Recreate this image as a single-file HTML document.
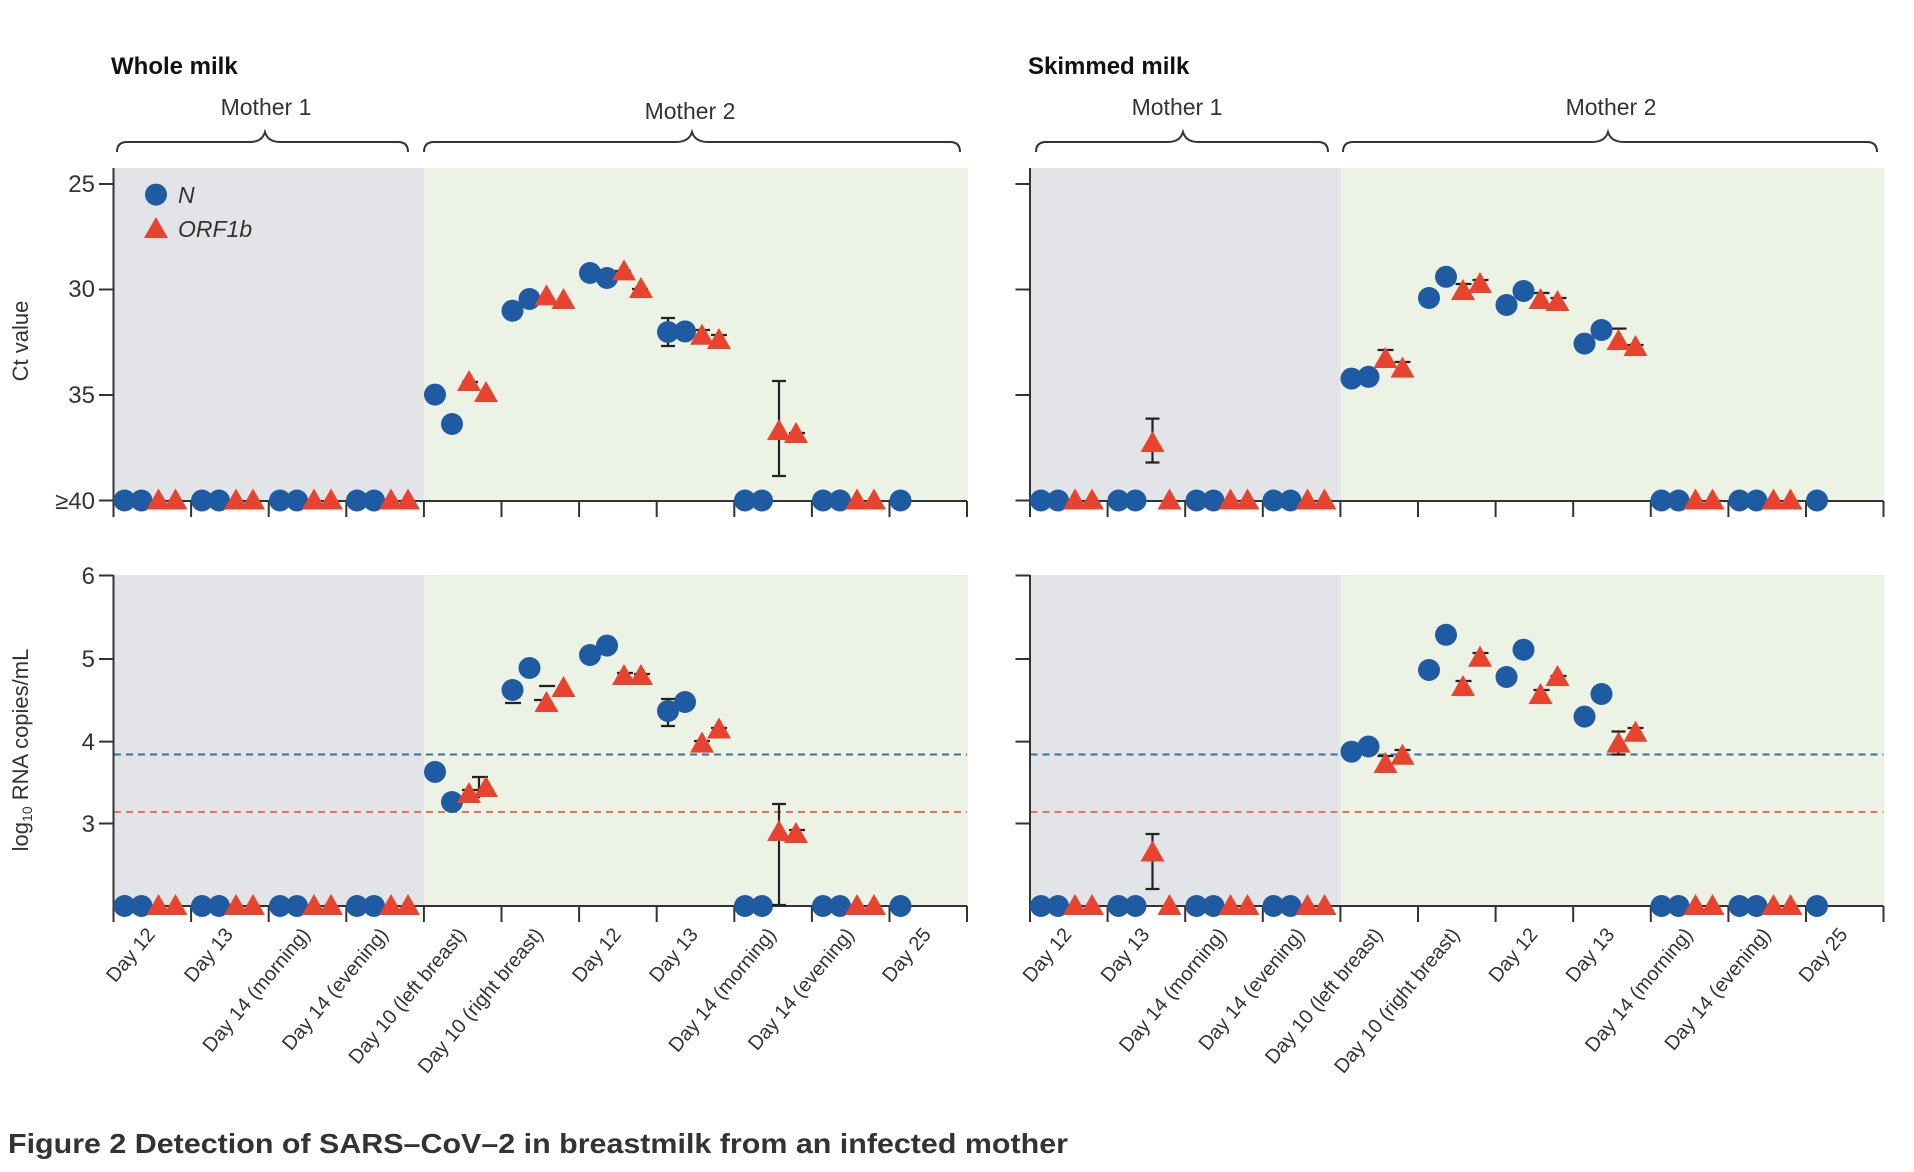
<!DOCTYPE html>
<html><head><meta charset="utf-8"><style>
html,body{margin:0;padding:0;background:#fff}
svg{display:block}
text{font-family:"Liberation Sans Narrow","Liberation Sans",sans-serif;fill:#333}
</style></head><body>
<svg width="1914" height="1172" viewBox="0 0 1914 1172" xmlns="http://www.w3.org/2000/svg">
<defs>
<circle id="c" r="11" fill="#1f5ba3"/>
<path id="t" d="M0,-12 L12,9 L-12,9Z" fill="#e8432e"/>
<g id="bgTop"><rect x="113.5" y="168" width="310.5" height="333" fill="#e3e4e8"/><rect x="424" y="168" width="544" height="333" fill="#ecf2e4"/></g>
<g id="bgBot"><rect x="113.5" y="575" width="310.5" height="331" fill="#e3e4e8"/><rect x="424" y="575" width="544" height="331" fill="#ecf2e4"/></g>
<g id="axes" stroke="#333" stroke-width="2" fill="none">
<path d="M113.5,168 V501 H967"/>
<path d="M113.5,575 V906 H967"/>
<path d="M99,184 H113.5 M99,289.5 H113.5 M99,395 H113.5 M99,500.5 H113.5"/>
<path d="M99,575.5 H113.5 M99,659 H113.5 M99,741.6 H113.5 M99,823.5 H113.5"/>
<path d="M113.5,501 v16 M191.1,501 v16 M268.7,501 v16 M346.3,501 v16 M423.9,501 v16 M501.5,501 v16 M579.1,501 v16 M656.7,501 v16 M734.3,501 v16 M811.9,501 v16 M889.5,501 v16 M967,501 v16"/>
<path d="M113.5,906 v16 M191.1,906 v16 M268.7,906 v16 M346.3,906 v16 M423.9,906 v16 M501.5,906 v16 M579.1,906 v16 M656.7,906 v16 M734.3,906 v16 M811.9,906 v16 M889.5,906 v16 M967,906 v16"/>
</g>
<g id="dash" stroke-width="2" stroke-dasharray="7,5">
<line x1="114" y1="754.5" x2="967" y2="754.5" stroke="#3a6ea5"/>
<line x1="114" y1="812" x2="967" y2="812" stroke="#e8735a"/>
</g>
<g id="xl" font-size="20" text-anchor="end">
<text transform="translate(156,935) rotate(-50)">Day 12</text>
<text transform="translate(234,935) rotate(-50)">Day 13</text>
<text transform="translate(311,935) rotate(-50)">Day 14 (morning)</text>
<text transform="translate(389,935) rotate(-50)">Day 14 (evening)</text>
<text transform="translate(467,935) rotate(-50)">Day 10 (left breast)</text>
<text transform="translate(544,935) rotate(-50)">Day 10 (right breast)</text>
<text transform="translate(622,935) rotate(-50)">Day 12</text>
<text transform="translate(699,935) rotate(-50)">Day 13</text>
<text transform="translate(777,935) rotate(-50)">Day 14 (morning)</text>
<text transform="translate(855,935) rotate(-50)">Day 14 (evening)</text>
<text transform="translate(932,935) rotate(-50)">Day 25</text>
</g>
<g id="base">
<use href="#c" x="124.5" y="500.5"/><use href="#c" x="141.5" y="500.5"/><use href="#t" x="158.5" y="500.5"/><use href="#t" x="175.5" y="500.5"/>
<use href="#c" x="280" y="500.5"/><use href="#c" x="297" y="500.5"/><use href="#t" x="314" y="500.5"/><use href="#t" x="331" y="500.5"/>
<use href="#c" x="357" y="500.5"/><use href="#c" x="374" y="500.5"/><use href="#t" x="391" y="500.5"/><use href="#t" x="408" y="500.5"/>
<use href="#c" x="823" y="500.5"/><use href="#c" x="840" y="500.5"/><use href="#t" x="857" y="500.5"/><use href="#t" x="874" y="500.5"/>
<use href="#c" x="900.5" y="500.5"/>
<use href="#c" x="124.5" y="906"/><use href="#c" x="141.5" y="906"/><use href="#t" x="158.5" y="906"/><use href="#t" x="175.5" y="906"/>
<use href="#c" x="280" y="906"/><use href="#c" x="297" y="906"/><use href="#t" x="314" y="906"/><use href="#t" x="331" y="906"/>
<use href="#c" x="357" y="906"/><use href="#c" x="374" y="906"/><use href="#t" x="391" y="906"/><use href="#t" x="408" y="906"/>
<use href="#c" x="823" y="906"/><use href="#c" x="840" y="906"/><use href="#t" x="857" y="906"/><use href="#t" x="874" y="906"/>
<use href="#c" x="900.5" y="906"/>
</g>
</defs>

<!-- LEFT PANEL -->
<use href="#bgTop"/><use href="#bgBot"/><use href="#dash"/><use href="#axes"/>
<text x="111" y="74" font-size="24" font-weight="bold" style="fill:#111">Whole milk</text>
<text x="266" y="115" font-size="23" text-anchor="middle">Mother 1</text>
<text x="690" y="119" font-size="23" text-anchor="middle">Mother 2</text>
<g stroke="#333" stroke-width="2" fill="none">
<path d="M117,152 Q117,142 127,142 H250 Q262,142 265,132 Q268,142 280,142 H398 Q408,142 408,152"/>
<path d="M424,152 Q424,142 434,142 H676 Q689,142 692,132 Q695,142 708,142 H950 Q960,142 960,152"/>
</g>
<g font-size="24" text-anchor="end">
<text x="95" y="192">25</text><text x="95" y="297">30</text><text x="95" y="403">35</text><text x="95" y="509">≥40</text>
<text x="95" y="584">6</text><text x="95" y="667">5</text><text x="95" y="750">4</text><text x="95" y="832">3</text>
</g>
<text transform="translate(28,341) rotate(-90)" font-size="22" text-anchor="middle">Ct value</text>
<text transform="translate(28,750) rotate(-90)" font-size="22" text-anchor="middle">log<tspan font-size="14" dy="4">10</tspan><tspan dy="-4"> RNA copies/mL</tspan></text>
<use href="#c" x="156" y="194.6"/><text x="178" y="203" font-size="23" font-style="italic">N</text>
<use href="#t" x="156" y="229"/><text x="178" y="237" font-size="23" font-style="italic">ORF1b</text>
<use href="#xl"/>
<use href="#base"/>
<use href="#c" x="202" y="500.5"/><use href="#c" x="219" y="500.5"/><use href="#t" x="236" y="500.5"/><use href="#t" x="253" y="500.5"/>
<use href="#c" x="202" y="906"/><use href="#c" x="219" y="906"/><use href="#t" x="236" y="906"/><use href="#t" x="253" y="906"/>
<use href="#c" x="745" y="500.5"/><use href="#c" x="762" y="500.5"/>
<use href="#c" x="745" y="906"/><use href="#c" x="762" y="906"/>
<g stroke="#222" stroke-width="2.2" fill="none">
<path d="M462,382 h16 M534,700 h16 M615,271 h16 M632,289 h16"/>
<path d="M661,318 h14 M668,318 V346 M661,346 h14 M694,330 h16 M711,335 h16"/>
<path d="M772,381 h14 M779,381 V476 M772,476 h14 M789,433 h16"/>
<path d="M462,790 h16 M479,777 V798 M472,777 h16 M505,703 h16 M539,686 h16 M617,673 h16 M634,674 h16"/>
<path d="M661,699 h14 M668,699 V726 M661,726 h14 M694,741 h16 M711,728 h16"/>
<path d="M772,804 h14 M779,804 V906 M772,905 h14 M789,830 h16"/>
</g>
<use href="#c" x="435" y="394.6"/><use href="#c" x="452" y="424"/><use href="#t" x="469" y="382"/><use href="#t" x="486" y="393"/>
<use href="#c" x="512.5" y="310.7"/><use href="#c" x="529.5" y="299"/><use href="#t" x="546.5" y="296.4"/><use href="#t" x="563.5" y="300"/>
<use href="#c" x="590" y="273"/><use href="#c" x="607" y="278"/><use href="#t" x="624" y="271.4"/><use href="#t" x="641" y="289"/>
<use href="#c" x="668" y="332"/><use href="#c" x="685" y="331.4"/><use href="#t" x="702" y="335.7"/><use href="#t" x="719" y="340"/>
<use href="#t" x="779" y="431"/><use href="#t" x="796" y="434"/>
<use href="#c" x="435" y="771.9"/><use href="#c" x="452" y="802"/><use href="#t" x="469" y="794"/><use href="#t" x="486" y="788"/>
<use href="#c" x="512.5" y="690"/><use href="#c" x="529.5" y="668"/><use href="#t" x="546.5" y="703"/><use href="#t" x="563.5" y="688"/>
<use href="#c" x="590" y="655"/><use href="#c" x="607" y="645.6"/><use href="#t" x="624" y="676"/><use href="#t" x="641" y="676"/>
<use href="#c" x="668" y="711"/><use href="#c" x="685" y="702"/><use href="#t" x="702" y="743.6"/><use href="#t" x="719" y="729.5"/>
<use href="#t" x="779" y="832"/><use href="#t" x="796" y="834"/>

<!-- RIGHT PANEL -->
<g transform="translate(916.5,0)">
<use href="#bgTop"/><use href="#bgBot"/><use href="#dash"/><use href="#axes"/>
<use href="#xl"/>
<use href="#base"/>
<use href="#c" x="202" y="500.5"/><use href="#c" x="219" y="500.5"/><use href="#t" x="253" y="500.5"/>
<use href="#c" x="202" y="906"/><use href="#c" x="219" y="906"/><use href="#t" x="253" y="906"/>
<use href="#c" x="745" y="500.5"/><use href="#c" x="762" y="500.5"/><use href="#t" x="779" y="500.5"/><use href="#t" x="796" y="500.5"/>
<use href="#c" x="745" y="906"/><use href="#c" x="762" y="906"/><use href="#t" x="779" y="906"/><use href="#t" x="796" y="906"/>
<g stroke="#222" stroke-width="2.2" fill="none">
<path d="M229,418.6 h14 M236,418.6 V462.5 M229,462.5 h14"/>
<path d="M461,350 h16 M478,362 h16 M539,284 h16 M556,280 h16 M617,293 h16 M634,298 h16 M694,328.6 h16 M711,345 h16"/>
<path d="M229,834 h14 M236,834 V889 M229,889 h14"/>
<path d="M461,756 h16 M478,750 h16 M539,681 h16 M556,653 h16 M617,690 h16 M634,676 h16"/>
<path d="M695,731.5 h14 M702,731.5 V754.5 M695,754.5 h14 M711,728 h16"/>
</g>
<use href="#t" x="236" y="443"/><use href="#t" x="236" y="852.5"/>
<use href="#c" x="435" y="378.6"/><use href="#c" x="452" y="376.8"/><use href="#t" x="469" y="359"/><use href="#t" x="486" y="368.6"/>
<use href="#c" x="512.5" y="298"/><use href="#c" x="529.5" y="276.8"/><use href="#t" x="546.5" y="291"/><use href="#t" x="563.5" y="284"/>
<use href="#c" x="590" y="305"/><use href="#c" x="607" y="291"/><use href="#t" x="624" y="300"/><use href="#t" x="641" y="302"/>
<use href="#c" x="668" y="343.6"/><use href="#c" x="685" y="330"/><use href="#t" x="702" y="341"/><use href="#t" x="719" y="347"/>
<use href="#c" x="435" y="751.7"/><use href="#c" x="452" y="746.5"/><use href="#t" x="469" y="764"/><use href="#t" x="486" y="755.7"/>
<use href="#c" x="512.5" y="670"/><use href="#c" x="529.5" y="634.8"/><use href="#t" x="546.5" y="687"/><use href="#t" x="563.5" y="657.7"/>
<use href="#c" x="590" y="677"/><use href="#c" x="607" y="649.7"/><use href="#t" x="624" y="695"/><use href="#t" x="641" y="677"/>
<use href="#c" x="668" y="716.6"/><use href="#c" x="685" y="694"/><use href="#t" x="702" y="743.6"/><use href="#t" x="719" y="732.7"/>
</g>
<text x="1028" y="74" font-size="24" font-weight="bold" style="fill:#111">Skimmed milk</text>
<text x="1177" y="115" font-size="23" text-anchor="middle">Mother 1</text>
<text x="1611" y="115" font-size="23" text-anchor="middle">Mother 2</text>
<g stroke="#333" stroke-width="2" fill="none">
<path d="M1036,152 Q1036,142 1046,142 H1168 Q1180,142 1183,132 Q1186,142 1198,142 H1318 Q1328,142 1328,152"/>
<path d="M1343,152 Q1343,142 1353,142 H1592 Q1605,142 1608,132 Q1611,142 1624,142 H1867 Q1877,142 1877,152"/>
</g>

<text x="8" y="1153" font-size="28" font-weight="bold" textLength="1060" lengthAdjust="spacingAndGlyphs" style="font-family:'Liberation Sans',sans-serif;fill:#333">Figure 2 Detection of SARS–CoV–2 in breastmilk from an infected mother</text>
</svg>
</body></html>
